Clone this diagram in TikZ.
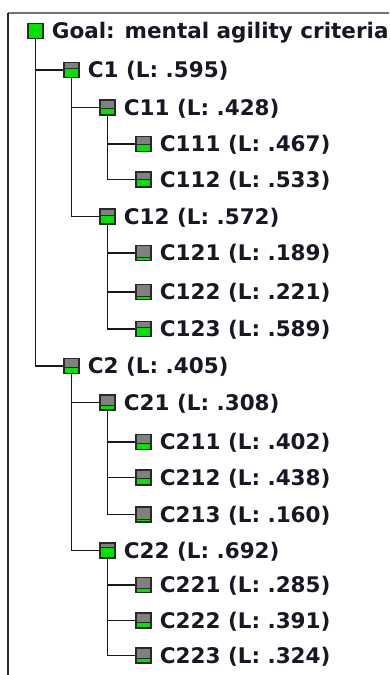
\documentclass[tikz,border=0pt]{standalone}
\usepackage{fontspec}
\setmainfont{DejaVu Sans}
\usepackage{tikz}
\usetikzlibrary{positioning}
\usepackage{xcolor}

\definecolor{boxgreen}{RGB}{0,226,0}
\definecolor{boxgray}{RGB}{128,128,128}
\definecolor{boxline}{RGB}{40,44,40}
\definecolor{textcol}{RGB}{24,24,36}

\tikzset{
  crit/.style={draw=boxline, line width=1.3pt, fill=boxgray, minimum size=15pt, inner sep=0pt,
    path picture={
      \fill[boxgreen] (path picture bounding box.south west) rectangle ([yshift=#1*15pt]path picture bounding box.south east);
      \draw[boxline, line width=1pt] ([yshift=#1*15pt]path picture bounding box.south west) -- ([yshift=#1*15pt]path picture bounding box.south east);
    }},
  crittext/.style={anchor=base west, inner sep=0pt, text=textcol, font=\bfseries\fontsize{21.5}{24}\selectfont},
  link/.style={draw=black!90, line width=1.6pt}
}

\begin{document}
\begin{tikzpicture}[x=1pt,y=-1pt]
  \useasboundingbox (0,0) rectangle (389,675);

  % frame
  \draw [line width=1.6pt, black!55] (389,13) -- (8,13);
  \draw [line width=1.6pt, black!85] (8,13) -- (8,675);

  % criteria boxes
  \node [crit=1] (goal) at (35.5,31) {};
  \node [crit=.595] (c1) at (71.5,70) {};
  \node [crit=.428] (c11) at (107.5,107.5) {};
  \node [crit=.467] (c111) at (143.5,144) {};
  \node [crit=.533] (c112) at (143.5,179.5) {};
  \node [crit=.572] (c12) at (107.5,216.5) {};
  \node [crit=.189] (c121) at (143.5,253) {};
  \node [crit=.221] (c122) at (143.5,292) {};
  \node [crit=.589] (c123) at (143.5,329) {};
  \node [crit=.405] (c2) at (71.5,366) {};
  \node [crit=.308] (c21) at (107.5,402.5) {};
  \node [crit=.402] (c211) at (143.5,442) {};
  \node [crit=.438] (c212) at (143.5,477.5) {};
  \node [crit=.160] (c213) at (143.5,514.5) {};
  \node [crit=.692] (c22) at (107.5,550.5) {};
  \node [crit=.285] (c221) at (143.5,585) {};
  \node [crit=.391] (c222) at (143.5,620.5) {};
  \node [crit=.324] (c223) at (143.5,655.5) {};

  % labels
  \node [crittext] (goal-t) at ([xshift=8pt,yshift=-7.8pt]goal.east) {Goal: mental agility criteria};
  \node [crittext] (c1-t) at ([xshift=8pt,yshift=-7.8pt]c1.east) {C1 (L: .595)};
  \node [crittext] (c11-t) at ([xshift=8pt,yshift=-7.8pt]c11.east) {C11 (L: .428)};
  \node [crittext] (c111-t) at ([xshift=8pt,yshift=-7.8pt]c111.east) {C111 (L: .467)};
  \node [crittext] (c112-t) at ([xshift=8pt,yshift=-7.8pt]c112.east) {C112 (L: .533)};
  \node [crittext] (c12-t) at ([xshift=8pt,yshift=-7.8pt]c12.east) {C12 (L: .572)};
  \node [crittext] (c121-t) at ([xshift=8pt,yshift=-7.8pt]c121.east) {C121 (L: .189)};
  \node [crittext] (c122-t) at ([xshift=8pt,yshift=-7.8pt]c122.east) {C122 (L: .221)};
  \node [crittext] (c123-t) at ([xshift=8pt,yshift=-7.8pt]c123.east) {C123 (L: .589)};
  \node [crittext] (c2-t) at ([xshift=8pt,yshift=-7.8pt]c2.east) {C2 (L: .405)};
  \node [crittext] (c21-t) at ([xshift=8pt,yshift=-7.8pt]c21.east) {C21 (L: .308)};
  \node [crittext] (c211-t) at ([xshift=8pt,yshift=-7.8pt]c211.east) {C211 (L: .402)};
  \node [crittext] (c212-t) at ([xshift=8pt,yshift=-7.8pt]c212.east) {C212 (L: .438)};
  \node [crittext] (c213-t) at ([xshift=8pt,yshift=-7.8pt]c213.east) {C213 (L: .160)};
  \node [crittext] (c22-t) at ([xshift=8pt,yshift=-7.8pt]c22.east) {C22 (L: .692)};
  \node [crittext] (c221-t) at ([xshift=8pt,yshift=-7.8pt]c221.east) {C221 (L: .285)};
  \node [crittext] (c222-t) at ([xshift=8pt,yshift=-7.8pt]c222.east) {C222 (L: .391)};
  \node [crittext] (c223-t) at ([xshift=8pt,yshift=-7.8pt]c223.east) {C223 (L: .324)};

  % tree lines
  \foreach \p/\c in {goal/c1, goal/c2, c1/c11, c1/c12, c11/c111, c11/c112,
                     c12/c121, c12/c122, c12/c123, c2/c21, c2/c22,
                     c21/c211, c21/c212, c21/c213, c22/c221, c22/c222, c22/c223}
    \draw [link] (\p.south) |- (\c.west);
\end{tikzpicture}
\end{document}
